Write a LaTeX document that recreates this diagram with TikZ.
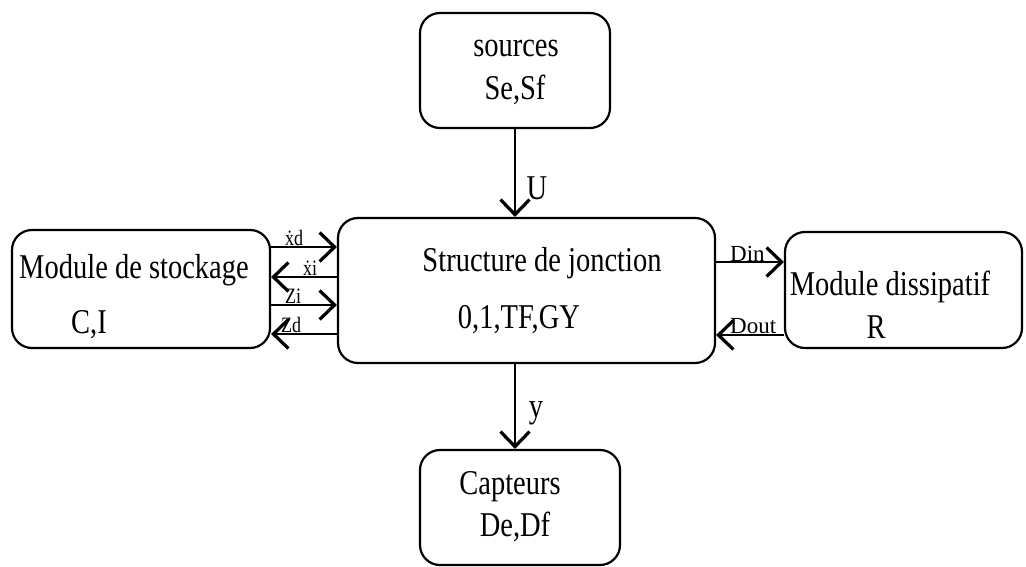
\documentclass[tikz,border=0pt]{standalone}
\usepackage{fontspec}
\setmainfont{Liberation Serif}
\usetikzlibrary{arrows.meta}

% tall, slightly condensed lettering
\newcommand{\tall}[1]{\scalebox{1}[1.22]{#1}}

\tikzset{
  blk/.style={draw, line width=2.2pt, rounded corners=20pt, inner sep=0pt},
  main/.style={font=\fontsize{28.5}{34}\selectfont, inner sep=0pt},
  sig/.style={font=\fontsize{18}{21}\selectfont, inner sep=0pt, anchor=base west},
  sigr/.style={font=\fontsize{23}{27}\selectfont, inner sep=0pt, anchor=base west},
  arr/.style={line width=2.2pt,
    -{Straight Barb[length=15pt,width=29pt,line width=3.2pt]}},
}

\begin{document}
\begin{tikzpicture}[x=1pt, y=-1pt]
\useasboundingbox (0,0) rectangle (1026,567);

% blocks
\node[blk, minimum width=190pt, minimum height=115pt] (src) at (515,70.5) {};
\node[blk, minimum width=377pt, minimum height=145pt] (cen) at (526.5,290.5) {};
\node[blk, minimum width=258pt, minimum height=118pt] (stk) at (141,289) {};
\node[blk, minimum width=237pt, minimum height=116pt] (dis) at (903.5,290) {};
\node[blk, minimum width=200pt, minimum height=115pt] (cap) at (520,507.5) {};

% block texts
\node[main] (srcA) at (516,48) {\tall{sources}};
\node[main] (srcB) at (515,90) {\tall{Se,Sf}};
\node[main] (cenA) at (542,263) {\tall{Structure de jonction}};
\node[main] (cenB) at (519,320) {\tall{0,1,TF,GY}};
\node[main] (stkA) at (134,270) {\tall{Module de stockage}};
\node[main] (stkB) at (89,325) {\tall{C,I}};
\node[main] (disA) at (890,287) {\tall{Module dissipatif}};
\node[main] (disB) at (876,327) {\tall{R}};
\node[main] (capA) at (510,487) {\tall{Capteurs}};
\node[main] (capB) at (515,527) {\tall{De,Df}};

% sources -> junction structure -> sensors
\draw[arr] (src.south) -- (src.south |- cen.north);
\node[main] (lU) at (537,188) {\tall{U}};
\draw[arr] (cen.south -| src.south) -- (cap.north -| src.south);
\node[main] (ly) at (536,413) {\tall{y}};

% storage module exchanges
\draw[arr] (stk.east |- 0,247) -- (cen.west |- 0,247);
\draw[arr] (cen.west |- 0,277) -- (stk.east |- 0,277);
\draw[arr] (stk.east |- 0,305) -- (cen.west |- 0,305);
\draw[arr] (cen.west |- 0,334) -- (stk.east |- 0,334);
\node[sig] (lxd) at (285,245) {\tall{\.{x}d}};
\node[sig] (lxi) at (303,275) {\tall{\.{x}i}};
\node[sig] (lzi) at (285,303) {\tall{Zi}};
\node[sig] (lzd) at (281,332) {\tall{Zd}};

% dissipative module exchanges
\draw[arr] (cen.east |- 0,262) -- (dis.west |- 0,262);
\draw[arr] (dis.west |- 0,335) -- (cen.east |- 0,335);
\node[sigr] (ldin) at (730,261) {Din};
\node[sigr] (ldout) at (730,333) {Dout};
\end{tikzpicture}
\end{document}
